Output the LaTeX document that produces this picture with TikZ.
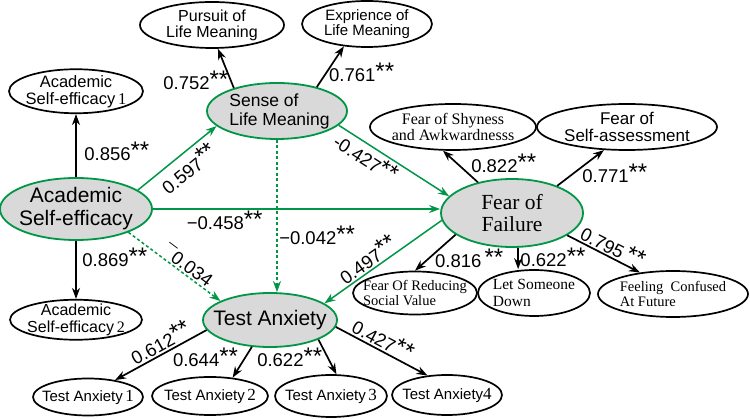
\documentclass[tikz,border=0pt]{standalone}
\usepackage{fontspec}
\setmainfont{Liberation Sans}
\newfontfamily\serifed{Liberation Serif}
\usepackage{tikz}
\usetikzlibrary{shapes,arrows.meta,positioning}
\definecolor{semgreen}{RGB}{0,150,70}
\definecolor{latentgray}{RGB}{217,217,217}
\newcommand{\fs}[2]{\fontsize{#1}{#2}\selectfont}
\newcommand{\sig}{\raisebox{2pt}{\fs{24}{24}**}}

\begin{document}
\begin{tikzpicture}[x=1pt, y=-1pt,
    latent/.style={ellipse, draw=semgreen, fill=latentgray, line width=1.8pt,
        inner xsep=-20pt, inner ysep=-12pt, align=center},
    observed/.style={ellipse, draw=black, fill=white, line width=1.7pt,
        inner xsep=-20pt, inner ysep=-10pt, align=center},
    arrow/.style={-{Stealth[length=11pt,width=8pt]}, line width=1.7pt, black},
    patharrow/.style={arrow, semgreen, line width=1.5pt},
    dotarrow/.style={patharrow, dash pattern=on 3pt off 2.5pt},
    coef/.style={font=\fs{18.5}{20}, text=black, inner sep=1.5pt}
]
    \useasboundingbox (0,0) rectangle (750,419);

    % latent variables
    \node[latent, minimum width=152pt, minimum height=62pt, font=\fs{21}{23}] (ase) at (76,209) {Academic\\Self-efficacy};
    \node[latent, minimum width=140pt, minimum height=56pt, font=\fs{17.5}{19}, align=left] (slm) at (277,111) {\hspace*{5pt}Sense of\\\hspace*{5pt}Life Meaning};
    \node[latent, minimum width=142pt, minimum height=68pt, font=\serifed\fs{21.5}{22}] (fof) at (512,213) {Fear of\\Failure};
    \node[latent, minimum width=134pt, minimum height=54pt, font=\fs{21}{23}] (ta) at (270,320) {Test Anxiety};

    % indicators
    \node[observed, minimum width=134pt, minimum height=44pt, font=\fs{16.5}{17}, above=63pt of ase] (ase1) {Academic\\Self-efficacy\,{\serifed 1}};
    \node[observed, minimum width=132pt, minimum height=40pt, font=\fs{16}{17}, below=58pt of ase] (ase2) {Academic\\Self-efficacy\,{\serifed 2}};
    \node[observed, minimum width=144pt, minimum height=46pt, font=\fs{16}{16}] (pursuit) at (212,25) {Pursuit of\\Life Meaning};
    \node[observed, minimum width=130pt, minimum height=46pt, font=\fs{15}{15.5}] (exp) at (367,24) {Exprience of\\Life Meaning};
    \node[observed, minimum width=166pt, minimum height=46pt, font=\serifed\fs{16}{16.5}] (shy) at (453,127) {Fear of Shyness\\and Awkwardnesss};
    \node[observed, minimum width=180pt, minimum height=46pt, font=\fs{17}{17}] (selfass) at (627,127) {Fear of\\Self-assessment};
    \node[observed, minimum width=124pt, minimum height=43pt, font=\serifed\fs{14.5}{15}, align=left] (reduce) at (415,293) {Fear Of Reducing\\Social Value};
    \node[observed, minimum width=112pt, minimum height=46pt, font=\serifed\fs{15.5}{17}, align=left] (letdown) at (534,293) {Let Someone\\Down};
    \node[observed, minimum width=150pt, minimum height=46pt, font=\serifed\fs{14.5}{15}, align=left] (feel) at (673,294) {Feeling\ \ Confused\\At Future};
    \node[observed, minimum width=110pt, minimum height=37pt, font=\fs{15}{15}] (ta1) at (88,397) {Test Anxiety\,{\serifed\fs{17}{17}1}};
    \node[observed, minimum width=116pt, minimum height=38pt, font=\fs{15}{15}] (ta2) at (210,396) {Test Anxiety\,{\serifed\fs{17}{17}2}};
    \node[observed, minimum width=112pt, minimum height=42pt, font=\fs{15}{15}] (ta3) at (331,396) {Test Anxiety\,{\serifed\fs{17}{17}3}};
    \node[observed, minimum width=110pt, minimum height=40pt, font=\fs{15}{15}] (ta4) at (447,395) {Test Anxiety{\serifed\fs{17}{17}4}};

    % structural paths
    \draw[patharrow] (ase.17) -- node[coef, pos=0.52, sloped, below=3pt] {0.597\sig} (slm.194);
    \draw[patharrow] (ase.east) -- node[coef, pos=0.25, below] {−0.458\sig} (ase.east -| fof.west);
    \draw[dotarrow] (ase.-24) -- node[coef, pos=0.59, sloped, above] {¯0.034} (ta.159);
    \draw[dotarrow] (slm.south) -- node[coef, pos=0.63, right=0pt] {−0.042\sig} (slm.south |- ta.north);
    \draw[patharrow] (slm.-13) -- node[coef, pos=0.31, sloped, below] {-0.427\sig} (fof.165);
    \draw[patharrow] (fof.186) -- node[coef, pos=0.58, sloped, above] {0.497\sig} (ta.17);

    % loadings
    \draw[arrow] (ase) -- node[coef, pos=0.41, right=6pt] {0.856\sig} (ase1);
    \draw[arrow] (ase) -- node[coef, pos=0.29, right=4pt] {0.869\sig} (ase2);
    \draw[arrow] (slm.152) -- node[coef, pos=0.2, left] {0.752\sig} (pursuit.-76);
    \draw[arrow] (slm.31) -- node[coef, pos=0.37, right] {0.761\sig} (exp.-136);
    \draw[arrow] (fof.138) -- node[coef, pos=0.6, right=12pt] {0.822\sig} (shy.-113);
    \draw[arrow] (fof.31) -- node[coef, pos=0.36, right=6pt] {0.771\sig} (selfass.-135);
    \draw[arrow] (fof.201) -- node[coef, pos=0.66, right=4pt] {0.816\,\sig} (reduce.north);
    \draw[arrow] (fof.-80) -- node[coef, pos=0.46, right=0pt] {0.622\sig} (fof.-80 |- letdown.north);
    \draw[arrow] (fof.-22) -- node[coef, pos=0.56, sloped, above] {0.795\,\sig} (feel.147);
    \draw[arrow] (ta.189) -- node[coef, pos=0.45, sloped, above] {0.612\sig} (ta1.32);
    \draw[arrow] (ta.236) -- node[coef, pos=0.34, left=5pt] {0.644\sig} (ta2.39);
    \draw[arrow] (ta.-22) -- node[coef, pos=0.51, left=3pt] {0.622\sig} (ta3.76);
    \draw[arrow] (ta.-6) -- node[coef, pos=0.46, sloped, above] {0.427\sig} (ta4.135);
\end{tikzpicture}
\end{document}
